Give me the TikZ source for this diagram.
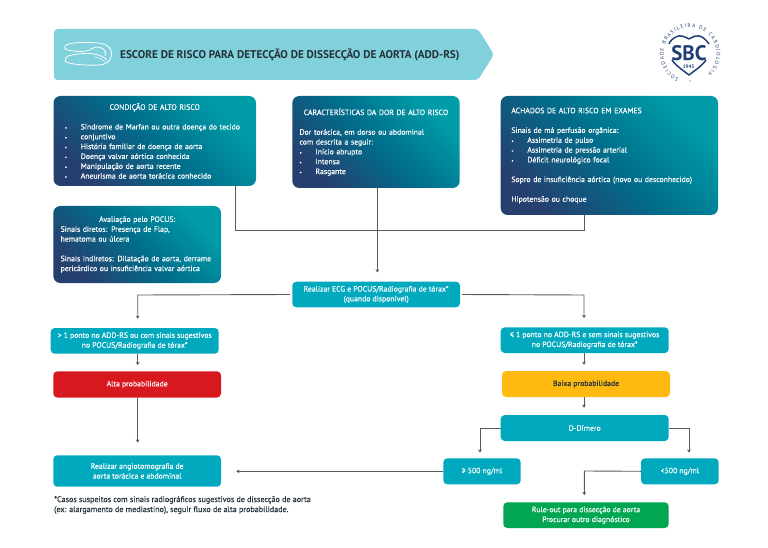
\documentclass[tikz,border=0pt]{standalone}
\usepackage{fontspec}
\setmainfont{PT Sans}
\newfontfamily\medfam{PT Sans}[FakeBold=0.35]
\usetikzlibrary{arrows.meta,decorations.text,shapes.misc}
\definecolor{tealb}{HTML}{00A9BD}
\definecolor{gnavy}{HTML}{25406F}
\definecolor{gmid}{HTML}{006E8C}
\definecolor{gteal}{HTML}{009DA8}
\definecolor{bannerc}{HTML}{80D1DC}
\definecolor{redb}{HTML}{D7181F}
\definecolor{amberb}{HTML}{FFBA12}
\definecolor{greenb}{HTML}{00A651}
\definecolor{sbcblue}{HTML}{1F3E73}
\definecolor{linec}{HTML}{5A5A5A}
\definecolor{titlec}{HTML}{26323A}
\newcommand{\boxfont}{\medfam\fontsize{7.75}{9.83}\selectfont}
\newcommand{\bul}{\makebox[16pt][l]{\fontsize{5}{5}\selectfont •}}
\newcommand{\ctr}[1]{\makebox[\linewidth][c]{#1}}
\tikzset{
  x=1pt,y=-1pt,
  basebox/.style={rounded corners=4pt,inner sep=0pt,font=\boxfont,text=white,align=center},
  tealbox/.style={basebox,fill=tealb},
  gradbox/.style={basebox,rounded corners=7pt,align=left,bottom color=gteal,top color=gnavy,middle color=gmid,shading angle=135},
  wire/.style={draw=linec,line width=0.9pt},
  arrowwire/.style={wire,-{Stealth[length=3.2pt,width=3.8pt]}},
}
\begin{document}
\begin{tikzpicture}
\useasboundingbox (0,0) rectangle (768,548);
% banner
\fill[bannerc,rounded corners=3.5pt] (54,29) -- (478,29) -- (494,54.5) -- (478,80) -- (54,80) -- cycle;
\node[anchor=west,inner sep=0pt,font=\fontsize{11.2}{13}\selectfont\bfseries,text=titlec] (title) at (120,54.5) {ESCORE DE RISCO PARA DETECÇÃO DE DISSECÇÃO DE AORTA (ADD-RS)};
% aorta icon
\draw[white,line width=0.8pt,line join=round] (65,46) .. controls (68,42) and (88,42) .. (98,43) .. controls (107,44) and (112,48) .. (111.7,54) .. controls (111.5,61) and (106,65) .. (98,65) .. controls (88,65.5) and (72,65) .. (65,61.5) .. controls (65,59) and (66,57) .. (68,56) .. controls (75,53.5) and (88,53) .. (94,54) .. controls (100,55) and (104,57) .. (107,60);
\draw[white,line width=0.8pt,line join=round] (65,46) .. controls (64,49) and (66,50) .. (70,50.5) .. controls (78,52) and (88,52) .. (92,48.5) .. controls (96,46) and (103,47) .. (105,51) .. controls (106,53) and (105.5,55) .. (105,56);
\draw[white,line width=0.5pt] (94,57) .. controls (98,57) and (103,60) .. (105,62);
% logo
\node[inner sep=0pt,font=\fontsize{5}{5}\selectfont\bfseries,text=sbcblue] (yr) at (688.5,66.5) {1943};
\draw[sbcblue,line width=1.5pt,line join=round] (689,39) .. controls (685,36.5) and (680,35) .. (677,36.5) .. controls (673,38) and (670,41) .. (669,44) (672,60) .. controls (676,66) and (684,71) .. (689,75) .. controls (694,71) and (702,66) .. (706,60) (709,44) .. controls (707,41) and (704,38) .. (701,36.5) .. controls (697,35) and (693,36.5) .. (689,39);
\node[inner sep=0pt,font=\fontsize{21}{21}\selectfont\bfseries,text=sbcblue] (sbc) at (689,53) {SBC};
\begin{scope}[shift={(690,54)},x=1pt,y=1pt]
\path[decorate,decoration={text along path,text align={fit to path},text={|\fontsize{5.2}{6}\selectfont\color{sbcblue}|SOCIEDADE BRASILEIRA DE CARDIOLOGIA}}] (245:26.5) arc (245:-47:26.5);
\fill[sbcblue] (0,-27) circle (0.7);
\end{scope}
% gradient boxes
\node[gradbox,minimum width=202.5pt,minimum height=90pt,text width=180pt] (risco) at (154.75,141) {\ctr{CONDIÇÃO DE ALTO RISCO}\\[9.83pt]
\bul Síndrome de Marfan ou outra doença do tecido\\
\bul conjuntivo\\
\bul História familiar de doença de aorta\\
\bul Doença valvar aórtica conhecida\\
\bul Manipulação de aorta recente\\
\bul Aneurisma de aorta torácica conhecido};
\node[gradbox,minimum width=167.4pt,minimum height=92pt,text width=153pt] (dor) at (376,142) {\ctr{CARACTERÍSTICAS DA DOR DE ALTO RISCO}\\[9.83pt]
Dor torácica, em dorso ou abdominal\\
com descrita a seguir:\\
\bul Início abrupto\\
\bul Intensa\\
\bul Rasgante};
\node[gradbox,minimum width=217.3pt,minimum height=119pt,text width=196pt] (achados) at (609.35,155.5) {ACHADOS DE ALTO RISCO EM EXAMES\\[9.83pt]
Sinais de má perfusão orgânica:\\
\bul Assimetria de pulso\\
\bul Assimetria de pressão arterial\\
\bul Déficit neurológico focal\\[9.83pt]
Sopro de insuficiência aórtica (novo ou desconhecido)\\[9.83pt]
Hipotensão ou choque};
\node[gradbox,minimum width=167.7pt,minimum height=77pt,text width=153pt] (pocus) at (137.15,244.5) {\ctr{Avaliação pelo POCUS:}\\
Sinais diretos: Presença de Flap,\\
hematoma ou úlcera\\[9.83pt]
Sinais indiretos: Dilatação de aorta, derrame\\
pericárdico ou insuficiência valvar aórtica};
% flat boxes
\node[tealbox,minimum width=167.7pt,minimum height=25.6pt] (ecg) at (376.15,294.5) {Realizar ECG e POCUS/Radiografia de tórax*\\(quando disponível)};
\node[tealbox,minimum width=168pt,minimum height=25.7pt] (alto) at (134.7,340.85) {> 1 ponto no ADD-RS ou com sinais sugestivos\\no POCUS/Radiografia de tórax*};
\node[tealbox,fill=redb,minimum width=167.7pt,minimum height=26.2pt] (alta) at (137.15,384.4) {Alta probabilidade};
\node[tealbox,minimum width=167.7pt,minimum height=31.4pt] (angio) at (137.15,471) {Realizar angiotomografia de\\aorta torácica e abdominal};
\node[tealbox,minimum width=168pt,minimum height=25.7pt] (baixo) at (584.7,340.15) {≤ 1 ponto no ADD-RS e sem sinais sugestivos\\no POCUS/Radiografia de tórax*};
\node[tealbox,fill=amberb,text=titlec,minimum width=168pt,minimum height=26pt] (baixa) at (586,384) {Baixa probabilidade};
\node[tealbox,minimum width=168pt,minimum height=26pt] (dd) at (584.7,428) {D-Dímero};
\node[tealbox,minimum width=77.4pt,minimum height=26pt] (ge) at (482,471.3) {≥ 500 ng/ml};
\node[tealbox,minimum width=77.7pt,minimum height=26pt] (lt) at (679.85,471.3) {<500 ng/ml};
\node[tealbox,fill=greenb,minimum width=165.4pt,minimum height=25.7pt] (rule) at (586,515.15) {Rule-out para dissecção de aorta\\Procurar outro diagnóstico};
\node[anchor=north west,inner sep=0pt,align=left,text=titlec,font=\medfam\fontsize{8.1}{10}\selectfont] (note) at (54,496) {*Casos suspeitos com sinais radiográficos sugestivos de dissecção de aorta\\(ex: alargamento de mediastino), seguir fluxo de alta probabilidade.};
% junction coordinates
\coordinate (ja) at (235.7,230);
\coordinate (jb) at (584.7,230);
\coordinate (jc) at (137.7,295);
\coordinate (jd) at (584,295);
\coordinate (je) at (480,428);
\coordinate (jf) at (689,428);
\coordinate (jg) at (584.3,471);
\coordinate (jh) at (377.3,230);
% connectors
\draw[wire] (risco.south -| ja) -- (ja) -- (jb) -- (achados.south -| jb);
\draw[arrowwire,shorten >=9pt] (dor.south -| jh) -- (ecg.north -| jh);
\draw[arrowwire,shorten >=9pt,shorten <=2pt] (ecg.west) -- (jc) -- (alto.north -| jc);
\draw[arrowwire,shorten >=9pt,shorten <=2pt] (ecg.east) -- (jd) -- (baixo.north -| jd);
\draw[arrowwire,shorten >=6pt] (alto.south -| jc) -- (alta.north -| jc);
\draw[arrowwire,shorten >=12.5pt] (alta.south -| jc) -- (angio.north -| jc);
\draw[arrowwire,shorten >=6pt] (baixo.south -| jd) -- (baixa.north -| jd);
\draw[arrowwire,shorten >=7pt] (baixa.south -| jd) -- (dd.north -| jd);
\draw[arrowwire,shorten >=5.5pt] (dd.west) -- (je) -- (ge.north -| je);
\draw[arrowwire,shorten >=5.5pt] (dd.east) -- (jf) -- (lt.north -| jf);
\draw[arrowwire,shorten >=7pt] (lt.west) -- (jg) -- (rule.north -| jg);
\draw[arrowwire,shorten >=15pt] (ge.west) -- (angio.east |- ge.west);
\end{tikzpicture}
\end{document}
